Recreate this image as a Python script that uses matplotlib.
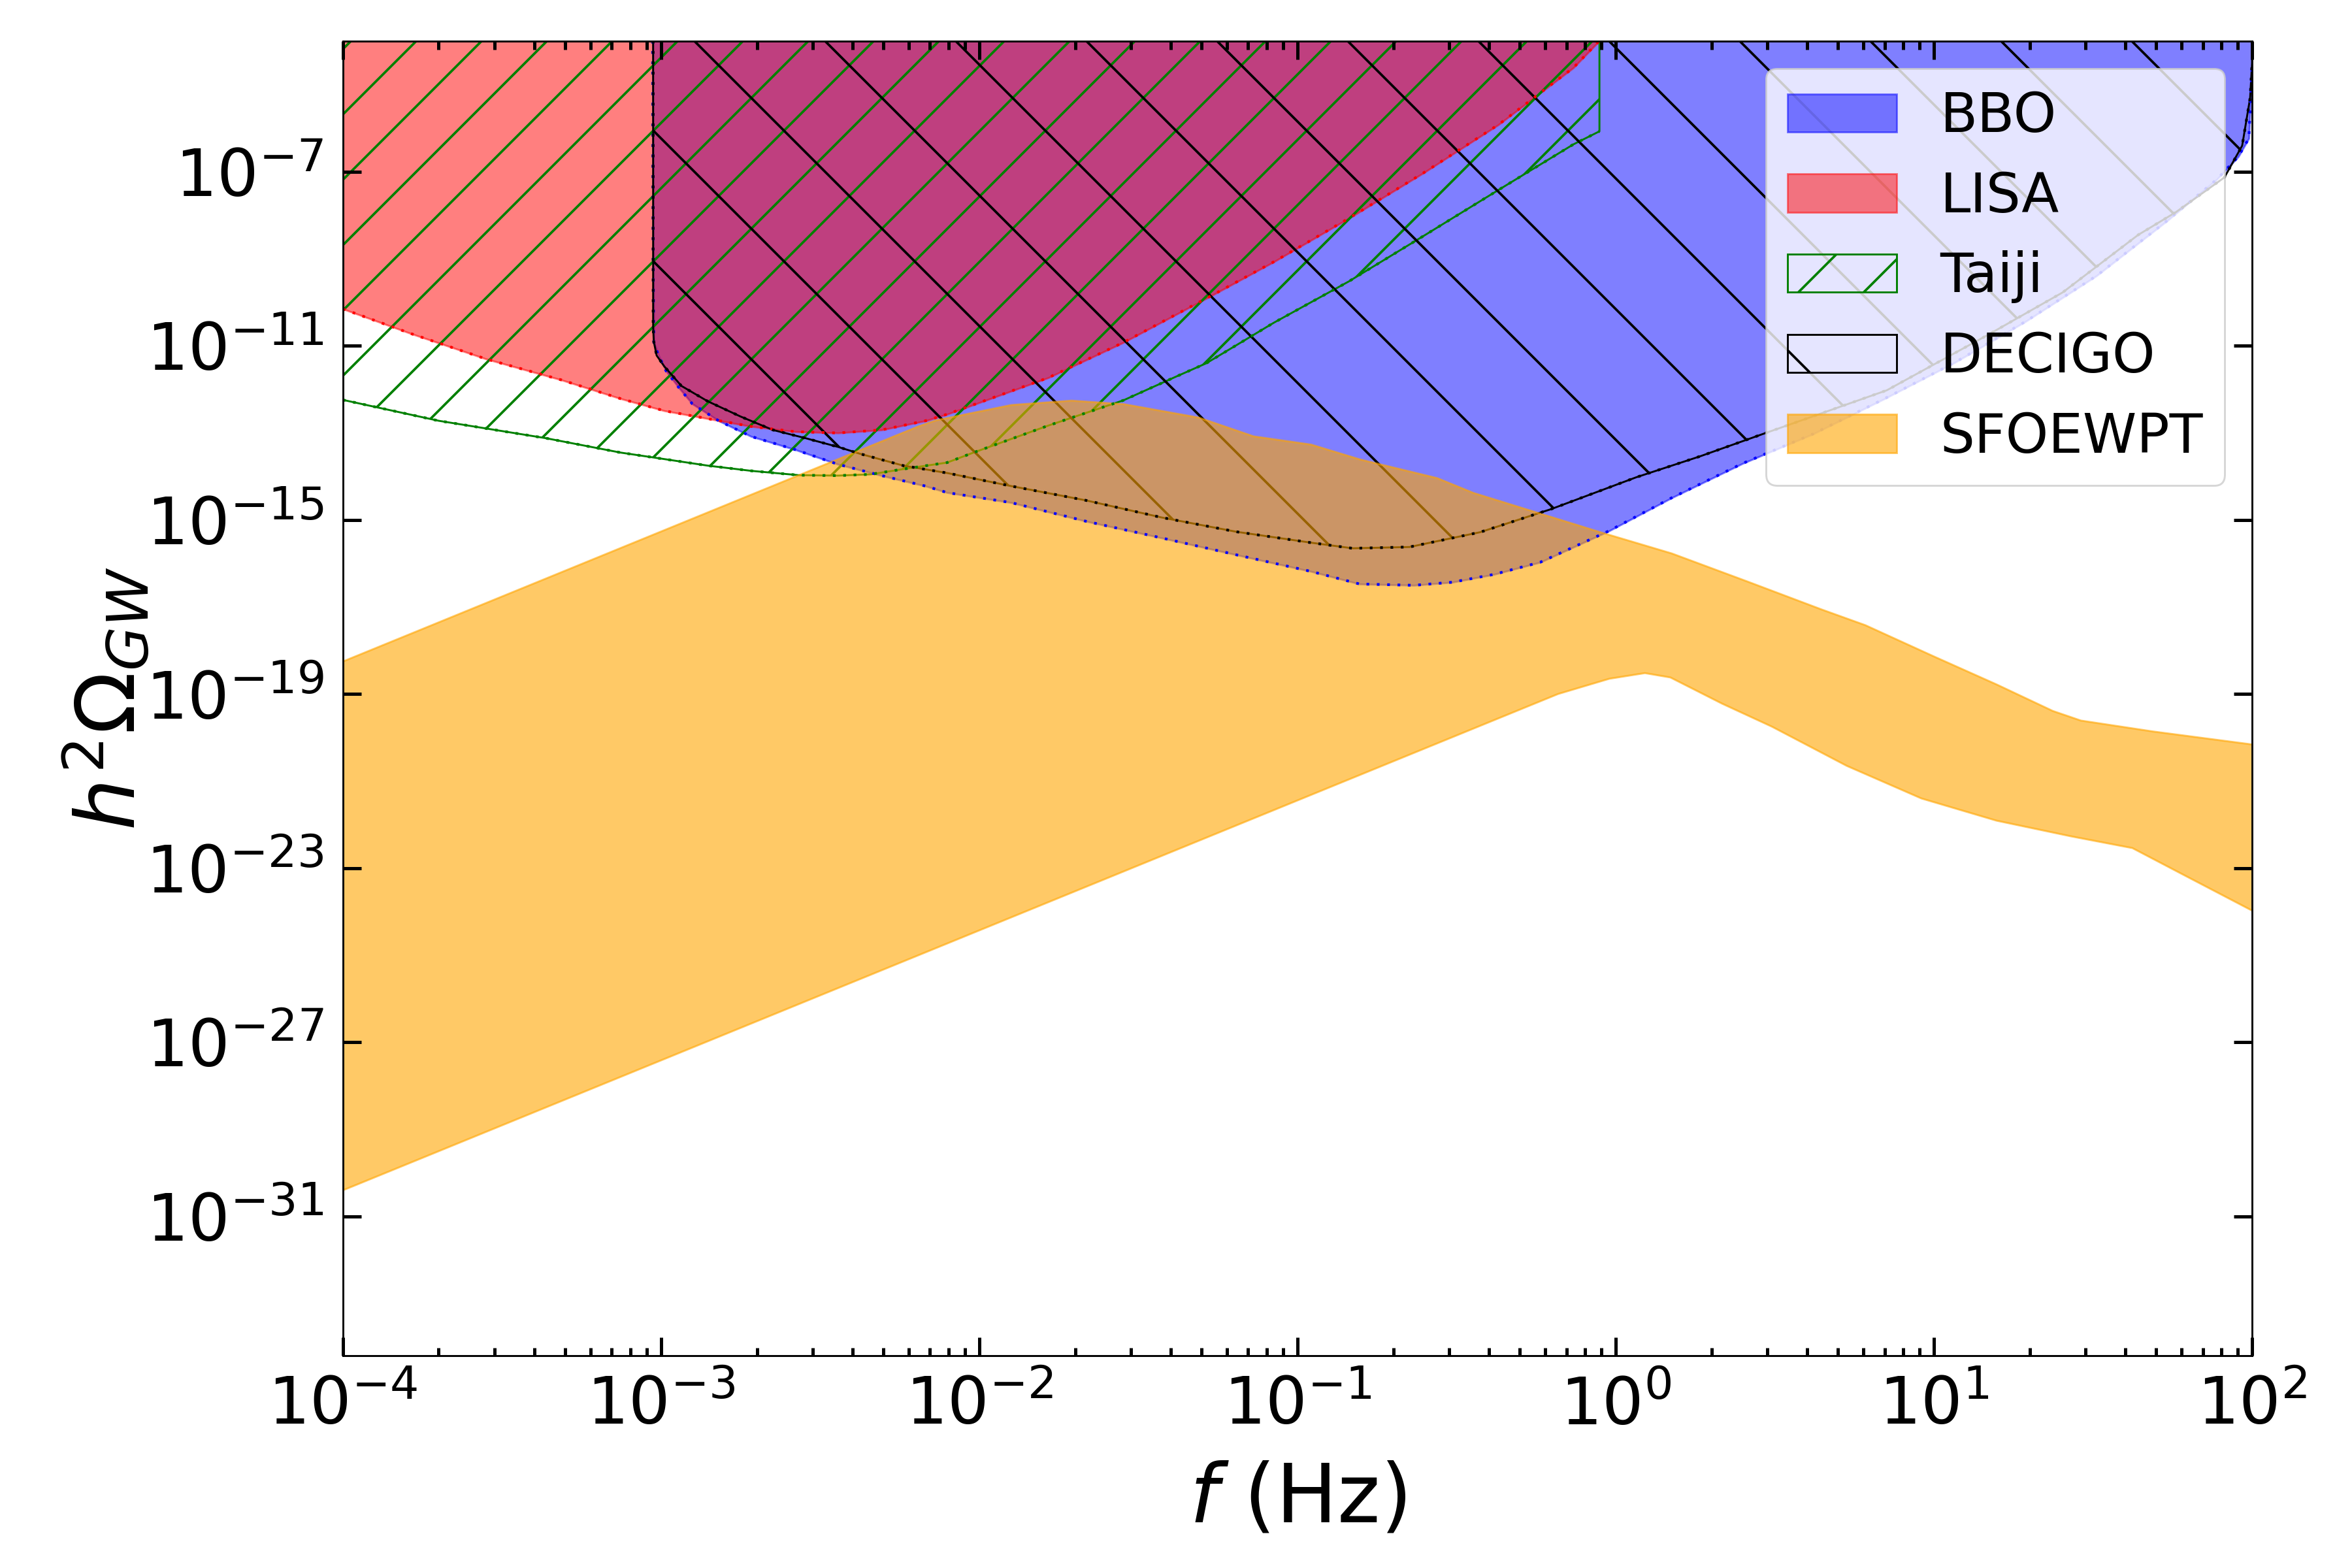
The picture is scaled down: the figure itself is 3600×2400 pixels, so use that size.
import matplotlib

matplotlib.use("Agg")
import matplotlib.pyplot as plt
import matplotlib.ticker as mticker
import numpy as np

# values, as log10(f / Hz) and log10(h^2 Omega_GW)
bbo_logf = [-3.027, -3.025, -3.023, -3.008, -2.984, -2.943, -2.902, -2.819, -2.717,
            -2.580, -2.444, -2.307, -2.169, -2.101, -1.900, -1.664, -1.428, -1.192,
            -0.958, -0.805, -0.634, -0.514, -0.383, -0.237, -0.021, 0.176, 0.399, 0.621,
            0.843, 1.066, 1.288, 1.511, 1.734, 1.890, 1.957, 1.990, 2.0]
bbo_logo = [-3.0, -9.0, -10.92, -11.22, -11.58, -11.97, -12.33, -12.72, -13.08,
            -13.38, -13.72, -13.98, -14.22, -14.37, -14.60, -15.03, -15.41, -15.80,
            -16.18, -16.47, -16.50, -16.43, -16.25, -15.97, -15.25, -14.49, -13.70, -13.02,
            -12.22, -11.38, -10.44, -9.39, -8.12, -7.17, -6.65, -6.23, -4.6]

lisa_logf = [-4.0, -3.785, -3.550, -3.314, -3.128, -2.990, -2.854, -2.717, -2.580,
             -2.444, -2.307, -2.169, -2.101, -1.783, -1.547, -1.287, -1.075, -0.839,
             -0.603, -0.369, -0.133, -0.046]
lisa_logo = [-10.15, -10.72, -11.30, -11.78, -12.21, -12.49, -12.67, -12.85, -12.97,
             -13.0, -12.93, -12.72, -12.57, -11.73, -10.92, -9.91, -9.07, -8.07,
             -7.02, -5.92, -4.61, -3.95]

taiji_logf = [-4.0, -3.699, -3.362, -3.128, -2.990, -2.854, -2.717, -2.567, -2.444,
              -2.341, -2.239, -2.101, -2.018, -1.783, -1.547, -1.383, -1.287, -1.075,
              -0.839, -0.603, -0.369, -0.133, -0.051]
taiji_logo = [-12.24, -12.72, -13.12, -13.45, -13.60, -13.75, -13.87, -13.97, -13.98,
              -13.95, -13.83, -13.68, -13.45, -12.83, -12.25, -11.71, -11.40, -10.47,
              -9.52, -8.47, -7.42, -6.37, -6.07]

decigo_logf = [-3.025, -3.025, -3.023, -3.014, -2.990, -2.936, -2.854, -2.751, -2.649,
               -2.546, -2.444, -2.374, -2.239, -2.101, -1.900, -1.664, -1.428, -1.192,
               -0.958, -0.827, -0.648, -0.426, -0.203, 0.064, 0.264, 0.464, 0.852,
               1.169, 1.405, 1.642, 1.760, 1.913, 1.969, 1.994, 2.0]
decigo_logo = [-3.0, -10.57, -10.90, -11.22, -11.47, -11.92, -12.27, -12.62, -12.93,
               -13.12, -13.32, -13.48, -13.75, -13.92, -14.22, -14.55, -14.94, -15.27,
               -15.52, -15.65, -15.62, -15.28, -14.75, -14.02, -13.54, -13.02, -12.02,
               -10.75, -9.77, -8.45, -7.93, -7.13, -6.4, -5.3, -4.5]

sf_up_logf = [-4.0, -2.192, -2.136, -1.900, -1.711, -1.547, -1.311, -1.139, -0.958,
              -0.805, -0.562, -0.448, -0.046, 0.175, 0.411, 0.647, 0.784, 1.000,
              1.196, 1.373, 1.461, 1.687, 2.0]
sf_up_logo = [-18.24, -12.84, -12.70, -12.35, -12.25, -12.33, -12.64, -13.07, -13.26,
              -13.60, -14.03, -14.37, -15.28, -15.76, -16.40, -17.05, -17.41, -18.13,
              -18.77, -19.38, -19.60, -19.85, -20.15]
sf_lo_logf = [-4.0, -0.182, -0.021, 0.091, 0.171, 0.333, 0.490, 0.725, 0.960,
              1.196, 1.430, 1.623, 1.785, 2.0]
sf_lo_logo = [-30.39, -18.99, -18.64, -18.51, -18.61, -19.21, -19.74, -20.64, -21.39,
              -21.90, -22.26, -22.53, -23.15, -23.97]

plt.rcParams.update({
    "axes.linewidth": 0.35,
    "patch.linewidth": 0.35,
    "hatch.linewidth": 0.45,
    "xtick.direction": "in",
    "ytick.direction": "in",
    "xtick.top": True,
    "ytick.right": True,
    "xtick.major.size": 3.4,
    "ytick.major.size": 3.4,
    "xtick.minor.size": 1.5,
    "ytick.minor.size": 1.5,
    "xtick.major.width": 0.6,
    "ytick.major.width": 0.6,
    "xtick.minor.width": 0.6,
    "ytick.minor.width": 0.6,
    "xtick.labelsize": 12,
    "ytick.labelsize": 12,
    "legend.fontsize": 10,
})


def lin(v):
    return 10.0 ** np.asarray(v)


fig, ax = plt.subplots(figsize=(6, 4))
fig.subplots_adjust(left=0.1458, right=0.9575, top=0.9737, bottom=0.1354)

top = 1.0
ax.fill_between(lin(bbo_logf), lin(bbo_logo), top, color="b", alpha=0.5, label="BBO")
ax.fill_between(lin(lisa_logf), lin(lisa_logo), top, color="r", alpha=0.5, label="LISA")
ax.fill_between(lin(taiji_logf), lin(taiji_logo), top, facecolor="none",
                edgecolor="g", hatch="//", label="Taiji")
ax.fill_between(lin(decigo_logf), lin(decigo_logo), top, facecolor="none",
                edgecolor="k", hatch="\\", label="DECIGO")

# SFOEWPT band: both edges on one shared grid in log space
grid = np.union1d(sf_up_logf, sf_lo_logf)
band_up = np.interp(grid, sf_up_logf, sf_up_logo)
band_lo = np.interp(grid, sf_lo_logf, sf_lo_logo)
ax.fill_between(lin(grid), lin(band_lo), lin(band_up), color="orange", alpha=0.6,
                label="SFOEWPT")

dots = (0, (1, 2.8))
ax.plot(lin(bbo_logf), lin(bbo_logo), color="b", ls=dots, lw=0.5)
ax.plot(lin(lisa_logf), lin(lisa_logo), color="r", ls=dots, lw=0.5)
ax.plot(lin(taiji_logf), lin(taiji_logo), color="g", ls=dots, lw=0.5)
ax.plot(lin(decigo_logf), lin(decigo_logo), color="k", ls=dots, lw=0.5)

ax.set_xscale("log")
ax.set_yscale("log")
ax.set_xlim(1e-4, 1e2)
ax.set_ylim(10 ** -34.2, 1e-4)
ax.set_yticks([10.0 ** k for k in range(-31, -6, 4)])
ax.yaxis.set_minor_locator(mticker.NullLocator())

ax.set_xlabel(r"$f$ (Hz)", fontsize=15)
ax.set_ylabel(r"$h^2\Omega_{GW}$", fontsize=15)
ax.yaxis.set_label_coords(-0.10, 0.5)
ax.legend(loc="upper right")

fig.savefig("out.png", dpi=600)
